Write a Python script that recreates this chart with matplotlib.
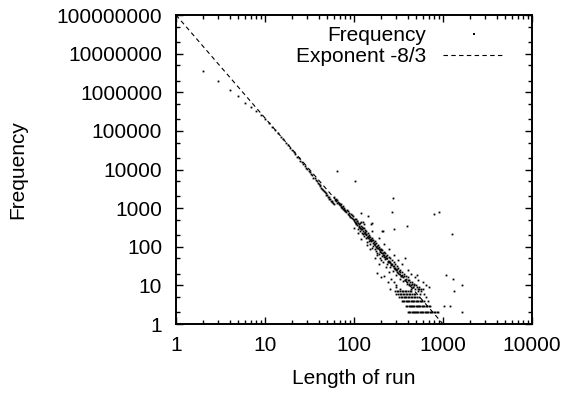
import matplotlib
matplotlib.use("Agg")
import matplotlib.pyplot as plt
from matplotlib.ticker import LogLocator, NullFormatter
import numpy as np

plt.rcParams['font.family'] = ['Liberation Sans', 'DejaVu Sans']

# main diagonal: one point per run length
run_len = [2, 3, 4, 5, 6, 7, 8, 9, 10, 11, 12, 13, 14, 15, 16, 17, 18, 19, 20,
           21, 22, 23, 24, 25, 26, 27, 28, 29, 30, 31, 32, 33, 34, 35, 36, 37, 38,
           39, 40, 41, 42, 43, 44, 45, 46, 47, 48, 49, 50, 51, 52, 53, 54, 55, 56,
           57, 58, 59]
freq = [3600000, 2000000, 1150000, 780000, 540000, 420000, 330000, 260000, 205000,
        160000, 128000, 104000, 86000, 71000, 60000, 50000, 43000, 37000, 32000,
        28000, 25000, 21500, 19500, 17000, 15500, 13500, 12500, 11000, 10200, 9000,
        8500, 7600, 7000, 6200, 5900, 5300, 5000, 4500, 4300, 3900, 3700, 3350, 3200,
        2900, 2800, 2550, 2450, 2250, 2200, 1950, 1900, 1750, 1700, 1550, 1500, 1400,
        1350, 1250]

# wider band from 60 up
band_len = [60, 61, 62, 63, 64, 65, 66, 67, 68, 69, 70, 71, 72, 73, 74, 75, 76, 77,
            78, 79, 80, 82, 83, 85, 86, 88, 89, 91, 92, 94, 95, 97, 98, 100, 102, 103,
            105, 107, 109, 111, 113, 115, 117, 119, 121, 123, 125, 127, 130, 132, 135,
            137, 140, 142, 145, 148, 150, 153, 156, 159, 162, 165, 168, 171, 175, 178,
            182, 185, 189, 192, 196, 200, 204, 208, 212, 216, 220, 225, 230, 235, 240,
            245, 250, 255, 260, 266, 272, 278, 284, 290, 296, 302, 308, 315, 322, 330,
            338, 346, 354, 362, 370, 380, 390, 400, 410, 420, 432, 445, 458, 470, 485,
            500, 520, 540, 560, 590,
            150, 180, 200, 230, 250, 260, 280, 300, 330, 254, 220, 190, 170, 140, 120,
            110, 120, 130, 160, 190, 220, 250, 280, 310, 350, 400, 440, 480, 530, 600,
            650, 700]
band_freq = [1900, 1650, 1720, 1500, 1580, 1380, 1450, 1260, 1350, 1180, 1250, 1100,
             1300, 1020, 1080, 960, 1150, 900, 980, 860, 920, 800, 880, 720, 820, 680,
             760, 600, 700, 560, 650, 520, 610, 480, 440, 520, 400, 460, 370, 420, 330,
             390, 300, 350, 280, 320, 250, 300, 230, 270, 210, 250, 180, 230, 170, 200,
             150, 180, 140, 165, 125, 150, 115, 140, 100, 125, 92, 110, 85, 100, 75, 90,
             68, 82, 62, 75, 55, 68, 50, 60, 44, 55, 40, 50, 36, 45, 32, 40, 28, 36, 25,
             32, 22, 28, 20, 25, 18, 22, 16, 20, 14, 18, 12, 16, 11, 14, 10, 12, 9, 11,
             8, 10, 8, 9, 7, 8,
             90, 60, 45, 30, 22, 15, 12, 10, 8, 8, 18, 35, 50, 110, 160,
             230, 450, 380, 260, 170, 120, 90, 60, 45, 35, 25, 20, 16, 14, 12,
             10, 9]

# extra spread of the cloud between 100 and 700
cloud_len = [101, 104, 106, 108, 112, 114, 116, 118, 122, 124, 126, 128, 131, 133,
             136, 138, 141, 143, 146, 149, 152, 155, 158, 161, 164, 167, 170, 173, 176,
             180, 183, 187, 191, 194, 198, 202, 206, 210, 214, 218, 222, 227, 232, 237,
             242, 247, 252, 257, 262, 268, 274, 280, 286, 292, 298, 305, 312, 318, 325,
             333, 341, 349, 357, 366, 375, 385, 395, 405, 415, 426, 437, 450, 462, 476,
             490, 505, 520, 535, 550, 570, 610, 640, 680, 720, 180, 200, 240, 300]
cloud_freq = [300, 520, 380, 470, 290, 350, 260, 400, 230, 280, 210, 300, 190, 240,
              165, 220, 130, 185, 140, 175, 120, 160, 95, 150, 105, 130, 85, 120, 78,
              105, 70, 95, 64, 88, 50, 80, 56, 70, 40, 62, 47, 58, 36, 50, 41, 44,
              30, 40, 33, 36, 23, 31, 26, 29, 19, 27, 21, 24, 15, 22, 17, 19, 13, 17,
              14, 15, 11, 14, 10, 12, 8, 11, 9, 10, 6, 9, 7, 8, 6, 8, 6, 5, 4, 3,
              21, 16, 12, 9]

# scattered outliers
out_len = [64, 103, 272, 270, 800, 910, 398, 1260, 280, 206, 1080, 1290, 1620, 1320,
           1620, 1030, 1200, 372, 504, 155, 145, 119, 158, 211, 126]
out_freq = [9400, 5100, 1800, 780, 700, 810, 350, 210, 295, 257, 19, 15, 10, 7,
            2, 3, 3, 50, 19, 390, 640, 735, 405, 260, 440]

# low counts form horizontal rows
row2_len = [405, 418, 430, 445, 458, 470, 485, 500, 515, 530, 548, 565, 580, 600, 620,
            640, 660, 685, 710, 735, 760, 790, 820, 850, 880]
row3_len = [385, 398, 410, 422, 436, 450, 463, 478, 492, 508, 524, 540, 558, 576, 595,
            615, 640, 665, 690]
row4_len = [345, 356, 368, 380, 392, 405, 418, 432, 446, 460, 476, 492, 510, 528, 546,
            565, 585, 605]
row5_len = [322, 335, 348, 360, 374, 388, 402, 418, 434, 450, 468, 488, 510, 535]
row6_len = [300, 312, 325, 338, 352, 366, 381, 396, 412, 430, 450, 470]
row7_len = [290, 302, 315, 328, 342, 356, 372, 388, 405, 422, 440]

fit_amp = 1e8
fit_exp = -8.0 / 3.0

xs = (run_len + band_len + cloud_len + out_len + row2_len + row3_len + row4_len
      + row5_len + row6_len + row7_len)
ys = (freq + band_freq + cloud_freq + out_freq + [2] * len(row2_len)
      + [3] * len(row3_len) + [4] * len(row4_len) + [5] * len(row5_len)
      + [6] * len(row6_len) + [7] * len(row7_len))

fig = plt.figure(figsize=(5.65, 3.95), dpi=100)
ax = fig.add_axes([176 / 565, 1 - 324 / 395, (532 - 176) / 565, (324 - 15) / 395])

ax.plot(xs, ys, linestyle='none', marker='s', markersize=1.3, color='black',
        markeredgewidth=0, label='Frequency')
lx = np.logspace(0, 4, 200)
ax.plot(lx, fit_amp * lx ** fit_exp, color='black', linewidth=0.8,
        dashes=(4, 3), label='Exponent -8/3')

ax.set_xscale('log')
ax.set_yscale('log')
ax.set_xlim(1, 10000)
ax.set_ylim(1, 1e8)

xt = [1, 10, 100, 1000, 10000]
yt = [10 ** i for i in range(9)]
ax.set_xticks(xt)
ax.set_xticklabels([str(v) for v in xt])
ax.set_yticks(yt)
ax.set_yticklabels([str(v) for v in yt])
ax.xaxis.set_minor_locator(LogLocator(base=10, subs=np.arange(2, 10), numticks=20))
ax.yaxis.set_minor_locator(LogLocator(base=10, subs=(2, 5), numticks=20))
ax.xaxis.set_minor_formatter(NullFormatter())
ax.yaxis.set_minor_formatter(NullFormatter())
ax.tick_params(which='both', direction='in', top=True, right=True, labelsize=15,
               width=1)
ax.tick_params(which='major', length=5)
ax.tick_params(which='minor', length=3)
ax.tick_params(axis='x', pad=8.5)
ax.tick_params(axis='y', pad=10)
for s in ax.spines.values():
    s.set_linewidth(1.4)

ax.set_xlabel('Length of run', fontsize=15)
ax.set_ylabel('Frequency', fontsize=15)
ax.xaxis.set_label_coords(0.5, -(369 - 324) / 309)
ax.yaxis.set_label_coords(-(176 - 27) / 356, 0.5)

leg = ax.legend(loc='upper right', bbox_to_anchor=((505 - 176) / 356, (324 - 26) / 309),
                frameon=False, fontsize=15, markerfirst=False, handlelength=3.0,
                markerscale=1.2, borderaxespad=0, borderpad=0,
                labelspacing=0.1, handletextpad=0.8)
for t in leg.get_texts():
    t.set_ha('right')

fig.savefig('out.png', dpi=100)
